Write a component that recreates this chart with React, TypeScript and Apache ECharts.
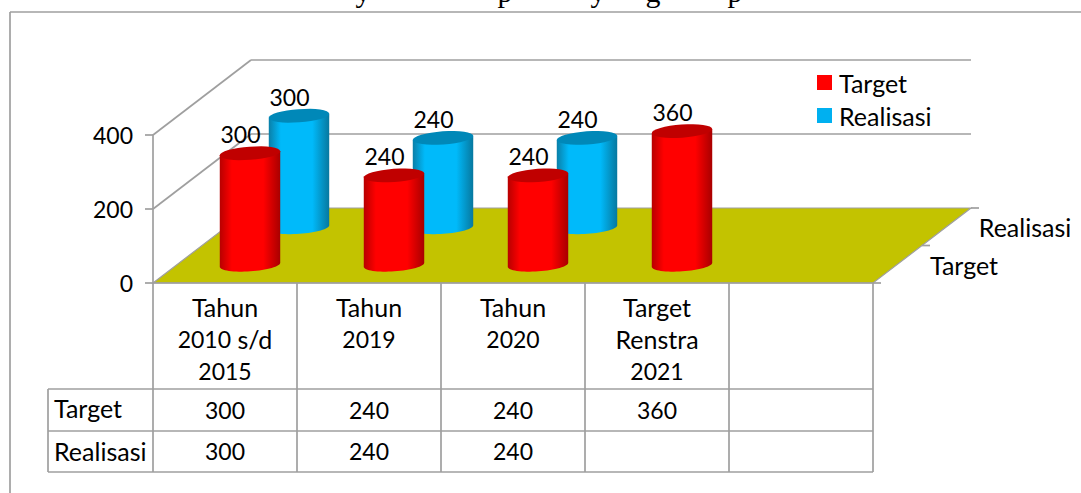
import React, { useEffect, useRef } from "react";
import * as echarts from "echarts";

const categories = ["Tahun\n2010 s/d\n2015", "Tahun\n2019", "Tahun\n2020", "Target\nRenstra\n2021", ""];
const targetValues: (number | null)[] = [300, 240, 240, 360, null];
const realisasiValues: (number | null)[] = [300, 240, 240, null, null];
const yTicks = { min: 0, max: 400, interval: 200 };
const seriesNames = ["Target", "Realisasi"];
const titleGlyphs = ["y", "p", "y", "g", "p"];
const FONT = "Lato";
const FS = 25;
const DS = 23;
const GRAY = "#9F9F9F";

const X0 = 153, X1 = 873, Y0 = 283, Y400 = 135;
const DX = 98, DY = -75;
const TBL_L = 48, TBL_Y = [389, 431, 472];
const colX = [153, 297, 441, 585, 729, 873];
const titleX = [363, 505, 598, 653, 735];

function ellipsePoints(cx: number, cy: number, r: number, ry: number, deg: number, from: number, to: number) {
  const th = (deg * Math.PI) / 180;
  const pts: number[][] = [];
  const n = 32;
  for (let i = 0; i <= n; i++) {
    const t = from + ((to - from) * i) / n;
    pts.push([
      cx + r * Math.cos(t) * Math.cos(th) - ry * Math.sin(t) * Math.sin(th),
      cy + r * Math.cos(t) * Math.sin(th) + ry * Math.sin(t) * Math.cos(th),
    ]);
  }
  return pts;
}

function cylinder(depth: number, colors: { edgeL: string; mid: string; edgeR: string; cap: string }) {
  return (params: any, api: any) => {
    const v = api.value(1);
    if (v == null || isNaN(v)) return null;
    const base = api.coord([api.value(0), 0]);
    const top = api.coord([api.value(0), v]);
    const cx = base[0] + DX * depth + 0.5;
    const by = base[1] + DY * depth + 0.5;
    const ty = top[1] + DY * depth;
    const r = 30.3, ry = 6.6, rot = -4;
    const lower = ellipsePoints(cx, by, r, ry, rot, 0, Math.PI);
    const upperEnds = ellipsePoints(cx, ty, r, ry, rot, Math.PI, Math.PI * 2);
    const bodyPts = [...lower, upperEnds[0], upperEnds[upperEnds.length - 1]];
    return {
      type: "group",
      children: [
        {
          type: "polygon",
          shape: { points: bodyPts },
          style: {
            fill: new echarts.graphic.LinearGradient(0, 0, 1, 0, [
              { offset: 0, color: colors.edgeL },
              { offset: 0.2, color: colors.mid },
              { offset: 0.72, color: colors.mid },
              { offset: 1, color: colors.edgeR },
            ]),
          },
        },
        {
          type: "polygon",
          shape: { points: ellipsePoints(cx, ty, r, ry, rot, 0, Math.PI * 2) },
          style: { fill: colors.cap },
        },
        {
          type: "text",
          x: cx - 9.5,
          y: ty - 19,
          style: { text: String(v), font: `${DS}px ${FONT}`, fill: "#000", align: "center", verticalAlign: "middle" },
        },
      ],
    };
  };
}

const seriesData = (vals: (number | null)[]) => vals.map((v, i) => [i, v]);

const formatCategory = (value: string) =>
  value
    .split("\n")
    .map((ln) => (ln.match(/\d+|\D+/g) || []).map((tok) => (/\d/.test(tok) ? `{d|${tok}}` : `{w|${tok}}`)).join(""))
    .join("\n");

export default function App() {
  const ref = useRef<HTMLDivElement>(null);
  useEffect(() => {
    const chart = echarts.init(ref.current!, undefined, { renderer: "svg" });
    const line = (x1: number, y1: number, x2: number, y2: number, z = 1) => ({
      type: "line",
      shape: { x1, y1, x2, y2 },
      style: { stroke: GRAY, lineWidth: 1.7 },
      z,
    });
    const text = (t: string, x: number, y: number, align: string = "center", size = FS) => ({
      type: "text",
      x,
      y,
      z: 5,
      style: { text: t, font: `${size}px ${FONT}`, fill: "#000", align, verticalAlign: "middle" },
    });
    const elements: any[] = [
      line(10, 12, 1081, 12),
      line(10, 12, 10, 493),
      line(X0, Y400, X0 + DX, Y400 + DY),
      line(X0, (Y0 + Y400) / 2, X0 + DX, (Y0 + Y400) / 2 + DY),
      line(X0 + DX, Y400 + DY, X1 + DX, Y400 + DY),
      line(X0 + DX, (Y0 + Y400) / 2 + DY, X1 + DX, (Y0 + Y400) / 2 + DY),
      {
        type: "polygon",
        shape: { points: [[X0, Y0], [X0 + DX, Y0 + DY], [X1 + DX, Y0 + DY], [X1, Y0]] },
        style: { fill: "#C3C300", stroke: GRAY, lineWidth: 1.2 },
        z: 1,
      },
      line(X0, Y0, X1, Y0, 2),
      line(X1, Y0, X1 + 8, Y0, 2),
      line(X1 + DX / 2, Y0 + DY / 2, X1 + DX / 2 + 8, Y0 + DY / 2, 2),
      line(X1 + DX, Y0 + DY, X1 + DX + 8, Y0 + DY, 2),
      text(seriesNames[0], 964, 265),
      text(seriesNames[1], 1025, 227),
      line(TBL_L, TBL_Y[0], X1, TBL_Y[0]),
      line(TBL_L, TBL_Y[1], X1, TBL_Y[1]),
      line(TBL_L, TBL_Y[2], X1, TBL_Y[2]),
      line(TBL_L, TBL_Y[0], TBL_L, TBL_Y[2]),
      ...colX.map((x) => line(x, Y0, x, TBL_Y[2])),
      text(seriesNames[0], 54, 408, "left"),
      text(seriesNames[1], 54, 451, "left"),
      ...titleGlyphs.map((g, i) => ({
        type: "text",
        x: titleX[i],
        y: -9,
        z: 5,
        style: { text: g, font: "30px 'Liberation Serif'", fill: "#000", align: "center", verticalAlign: "middle" },
      })),
    ];
    [targetValues, realisasiValues].forEach((vals, r) =>
      vals.forEach((v, c) => {
        if (v != null) elements.push(text(String(v), (colX[c] + colX[c + 1]) / 2, r === 0 ? 410 : 451, "center", DS));
      })
    );
    chart.setOption({
      animation: false,
      backgroundColor: "#fff",
      textStyle: { fontFamily: FONT },
      grid: { left: X0, width: X1 - X0, top: Y400, height: Y0 - Y400, containLabel: false },
      xAxis: {
        type: "category",
        data: categories,
        axisLine: { show: false },
        axisTick: { show: false },
        axisLabel: {
          interval: 0,
          margin: 8,
          verticalAlign: "top",
          formatter: formatCategory,
          lineHeight: 32,
          rich: {
            w: { color: "#000", fontSize: FS, fontFamily: FONT, lineHeight: 32 },
            d: { color: "#000", fontSize: DS, fontFamily: FONT, lineHeight: 32 },
          },
        },
      },
      yAxis: {
        type: "value",
        min: yTicks.min,
        max: yTicks.max,
        interval: yTicks.interval,
        axisLine: { show: true, lineStyle: { color: GRAY, width: 1.7 } },
        axisTick: { show: true, length: 8, lineStyle: { color: GRAY, width: 1.7 } },
        splitLine: { show: false },
        axisLabel: { color: "#000", fontSize: DS, fontFamily: FONT, margin: 20 },
      },
      legend: {
        show: true,
        orient: "vertical",
        left: 812,
        top: 65,
        data: seriesNames,
        icon: "rect",
        itemWidth: 15,
        itemHeight: 15,
        itemGap: 8,
        textStyle: { color: "#000", fontSize: FS, fontFamily: FONT, padding: [0, 0, 0, 2] },
        selectedMode: false,
      },
      graphic: { elements },
      series: [
        {
          name: seriesNames[1],
          type: "custom",
          z: 3,
          itemStyle: { color: "#00B0F0" },
          renderItem: cylinder(0.75, { edgeL: "#0A7FA8", mid: "#00BAFA", edgeR: "#07789F", cap: "#0088B8" }),
          data: seriesData(realisasiValues),
          encode: { x: 0, y: 1 },
          clip: false,
        },
        {
          name: seriesNames[0],
          type: "custom",
          z: 4,
          itemStyle: { color: "#FF0000" },
          renderItem: cylinder(0.25, { edgeL: "#B80000", mid: "#FF0000", edgeR: "#A80000", cap: "#C00000" }),
          data: seriesData(targetValues),
          encode: { x: 0, y: 1 },
          clip: false,
        },
      ],
    });
    return () => chart.dispose();
  }, []);
  return <div ref={ref} style={{ position: "absolute", left: 0, top: 0, width: 1081, height: 493 }} />;
}
